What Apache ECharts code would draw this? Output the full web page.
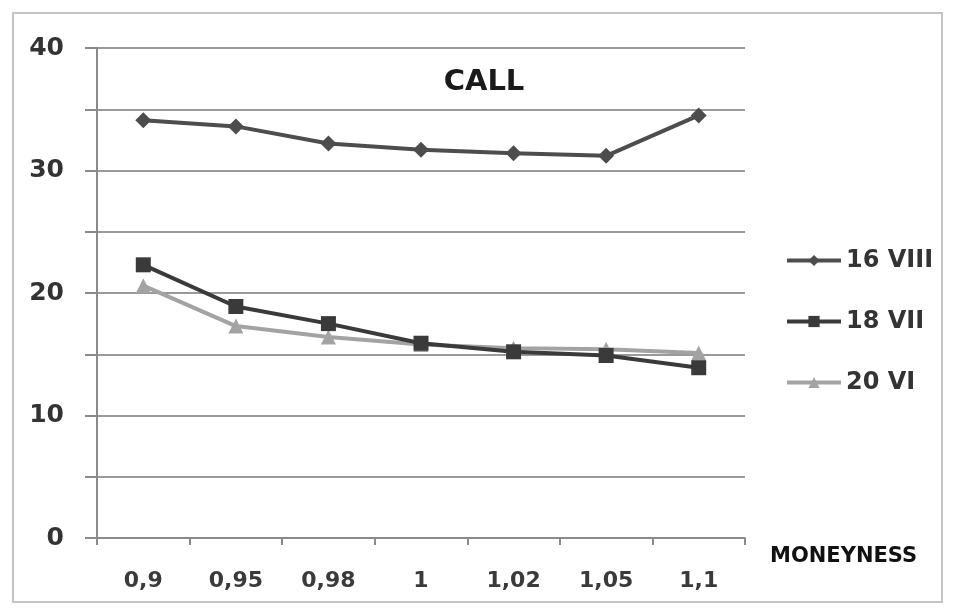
<!DOCTYPE html>
<html>
<head>
<meta charset="utf-8">
<script src="https://cdn.jsdelivr.net/npm/echarts@6/dist/echarts.min.js"></script>
<style>
html,body{margin:0;padding:0;background:#fff;}
#frame{position:absolute;left:12px;top:12px;width:931px;height:591px;border:2px solid #c4c4c4;box-sizing:border-box;}
#c{position:absolute;left:0;top:0;width:953px;height:616px;}
</style>
</head>
<body>
<div id="frame"></div>
<div id="c"></div>
<script>
var categories = ['0,9','0,95','0,98','1','1,02','1,05','1,1'];
var s16VIII = [34.1, 33.6, 32.2, 31.7, 31.4, 31.2, 34.5];
var s18VII = [22.3, 18.9, 17.5, 15.9, 15.2, 14.9, 13.9];
var s20VI = [20.6, 17.3, 16.4, 15.8, 15.5, 15.4, 15.1];
var seriesNames = ['16 VIII', '18 VII', '20 VI'];

var chart = echarts.init(document.getElementById('c'));
var font = '"DejaVu Sans", sans-serif';
function mk(name, data, color, symbol, size) {
  return {
    name: name, type: 'line', data: data,
    symbol: symbol, symbolSize: size,
    lineStyle: {color: color, width: 4},
    itemStyle: {color: color},
    z: name === '20 VI' ? 2 : 3
  };
}
chart.setOption({
  animation: false,
  backgroundColor: 'transparent',
  title: {
    text: 'CALL', left: 479, top: 63, textAlign: 'center',
    textStyle: {fontFamily: font, fontSize: 29, fontWeight: 'bold', color: '#1a1a1a'}
  },
  legend: {
    orient: 'vertical', left: 780, top: 243, itemGap: 36,
    itemWidth: 54, itemHeight: 14,
    data: seriesNames,
    lineStyle: {width: 4},
    textStyle: {fontFamily: font, fontSize: 24, lineHeight: 25, fontWeight: 'bold', color: '#333'}
  },
  grid: {left: 97, right: 208, top: 48, bottom: 78},
  xAxis: {
    type: 'category', data: categories, boundaryGap: true,
    name: 'MONEYNESS', nameLocation: 'end', nameGap: 0,
    nameTextStyle: {fontFamily: font, fontSize: 21, fontWeight: 'bold', color: '#111',
      verticalAlign: 'top', align: 'left', padding: [8, 0, 0, 25]},
    axisLine: {lineStyle: {color: '#8a8a8a', width: 2}},
    axisTick: {show: true, length: 7, lineStyle: {color: '#8a8a8a', width: 2}},
    axisLabel: {fontFamily: font, fontSize: 22, fontWeight: 'bold', color: '#3a3a3a', margin: 32}
  },
  yAxis: {
    type: 'value', min: 0, max: 40, interval: 5,
    axisLine: {show: true, lineStyle: {color: '#8a8a8a', width: 2}},
    axisTick: {show: true, length: 12, lineStyle: {color: '#8a8a8a', width: 2}},
    splitLine: {lineStyle: {color: '#9a9a9a', width: 2}},
    axisLabel: {
      fontFamily: font, fontSize: 25, fontWeight: 'bold', color: '#333', margin: 33,
      formatter: function (v) { return v % 10 === 0 ? String(v) : ''; }
    }
  },
  series: [
    mk(seriesNames[0], s16VIII, '#4d4d4d', 'diamond', 16),
    mk(seriesNames[1], s18VII, '#3a3a3a', 'rect', 15),
    mk(seriesNames[2], s20VI, '#a3a3a3', 'triangle', 15)
  ]
});
</script>
</body>
</html>
